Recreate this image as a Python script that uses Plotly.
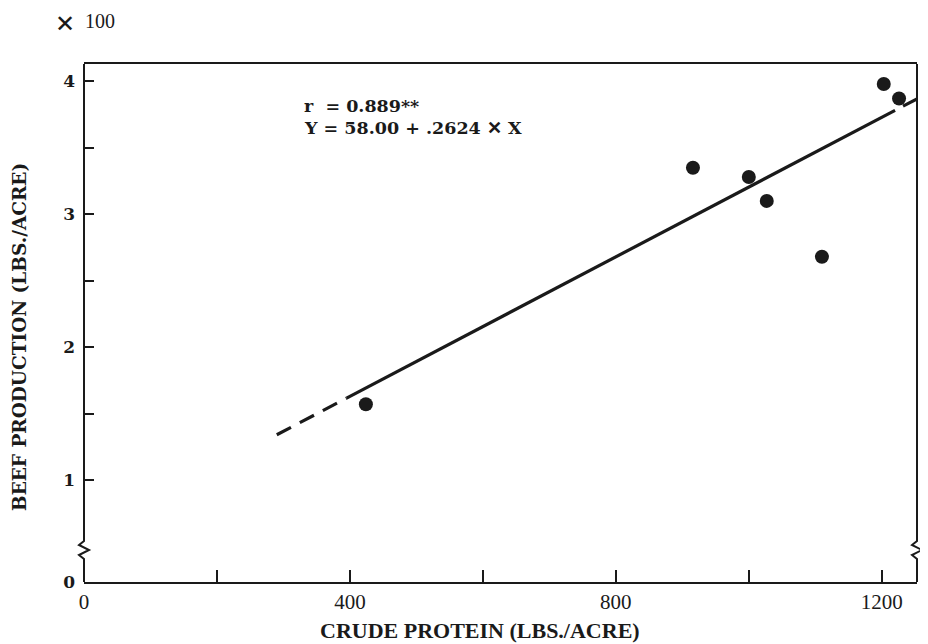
import plotly.graph_objects as go

# ---- data ----
crude_protein = [424, 916, 1000, 1027, 1110, 1203, 1226]      # lbs/acre
beef_production = [1.57, 3.35, 3.28, 3.10, 2.68, 3.98, 3.87]  # x100 lbs/acre

# regression reported on the chart: Y = 58.00 + .2624 X  (Y in lbs/acre)
intercept = 58.00
slope = 0.2624
solid_x = [395, 1220]
dash_left_x = [290, 395]
dash_right_x = [1232, 1253]

x_tickvals = [0, 200, 400, 600, 800, 1000, 1200]
x_ticktext = ["0", "", "400", "", "800", "", "1200"]

# broken y axis: "0" is drawn at the bottom below the break
Y_ZERO_POS = 0.233
y_tickvals = [Y_ZERO_POS, 1, 1.5, 2, 2.5, 3, 3.5, 4]
y_ticktext = ["0", "1", "", "2", "", "3", "", "4"]


def reg(xs):
    return [(intercept + slope * x) / 100.0 for x in xs]


SERIF = "DejaVu Serif"
NARROW = "Liberation Serif"
INK = "#1a1a1a"

fig = go.Figure()

fig.add_trace(go.Scatter(x=dash_left_x, y=reg(dash_left_x), mode="lines",
                         line=dict(color=INK, width=3.2, dash="16px,10px"),
                         hoverinfo="skip", showlegend=False))
fig.add_trace(go.Scatter(x=solid_x, y=reg(solid_x), mode="lines",
                         line=dict(color=INK, width=3.2),
                         hoverinfo="skip", showlegend=False))
fig.add_trace(go.Scatter(x=dash_right_x, y=reg(dash_right_x), mode="lines",
                         line=dict(color=INK, width=3.2),
                         hoverinfo="skip", showlegend=False))
fig.add_trace(go.Scatter(x=crude_protein, y=beef_production, mode="markers",
                         marker=dict(color=INK, size=14, line=dict(width=0)),
                         showlegend=False))

# page body has an 8px margin, so the figure is 8px smaller on each side
OFF = 8
W, H = 928 - OFF, 644 - OFF
L, R, T, B = 84 - OFF, 11, 64 - OFF, 62
pw, ph = W - L - R, H - T - B


def px(xr):  # reference-image pixel -> paper
    return (xr - 84) / pw


def py(yr):
    return (582 - yr) / ph


def axis_with_break(xr, y_top, y_bot, zc):
    pts = [(xr, y_bot), (xr, zc + 10), (xr - 5, zc + 6), (xr + 5, zc + 1),
           (xr - 5, zc - 4), (xr, zc - 8), (xr, y_top)]
    path = "M " + " L ".join(f"{px(a):.5f},{py(b):.5f}" for a, b in pts)
    return dict(type="path", xref="paper", yref="paper", path=path,
                line=dict(color=INK, width=2))


shapes = [axis_with_break(84, 64, 582, 549),
          axis_with_break(917, 64, 582, 549)]

annotations = [
    dict(text="r  = 0.889**", x=px(302), y=py(106), xref="paper", yref="paper",
         xanchor="left", yanchor="middle", showarrow=False,
         font=dict(family=SERIF, size=17.5, color=INK, weight="bold")),
    dict(text="Y = 58.00 + .2624 ✕ X", x=px(302), y=py(128), xref="paper", yref="paper",
         xanchor="left", yanchor="middle", showarrow=False,
         font=dict(family=SERIF, size=17.5, color=INK, weight="bold")),
    dict(text="✕", x=px(65), y=py(24), xref="paper", yref="paper",
         xanchor="center", yanchor="middle", showarrow=False,
         font=dict(family="DejaVu Sans", size=24, color=INK)),
    dict(text="100", x=px(83), y=py(21), xref="paper", yref="paper",
         xanchor="left", yanchor="middle", showarrow=False,
         font=dict(family=NARROW, size=20, color=INK)),
    dict(text="BEEF PRODUCTION (LBS./ACRE)", x=px(19), y=py(337), xref="paper", yref="paper",
         xanchor="center", yanchor="middle", showarrow=False, textangle=-90,
         font=dict(family=SERIF, size=18.5, color=INK, weight="bold")),
    dict(text="CRUDE PROTEIN (LBS./ACRE)", x=px(480), y=py(630), xref="paper", yref="paper",
         xanchor="center", yanchor="middle", showarrow=False,
         font=dict(family=NARROW, size=22, color=INK, weight="bold")),
]

fig.update_layout(
    width=W, height=H,
    margin=dict(l=L, r=R, t=T, b=B),
    paper_bgcolor="white", plot_bgcolor="white",
    shapes=shapes, annotations=annotations,
    xaxis=dict(range=[0, 1253], tickvals=x_tickvals, ticktext=x_ticktext,
               ticks="inside", ticklen=12, tickwidth=1.5, tickcolor=INK,
               showline=True, linecolor=INK, linewidth=2, mirror=True,
               showgrid=False, zeroline=False,
               tickfont=dict(family=NARROW, size=21, color=INK)),
    yaxis=dict(range=[Y_ZERO_POS, 4.13], tickvals=y_tickvals, ticktext=y_ticktext,
               ticks="inside", ticklen=10, tickwidth=1.5, tickcolor=INK,
               showline=False, showgrid=False, zeroline=False, ticklabelstandoff=8,
               tickfont=dict(family=SERIF, size=17, color=INK, weight="bold")),
)

fig.write_html("out.html")
